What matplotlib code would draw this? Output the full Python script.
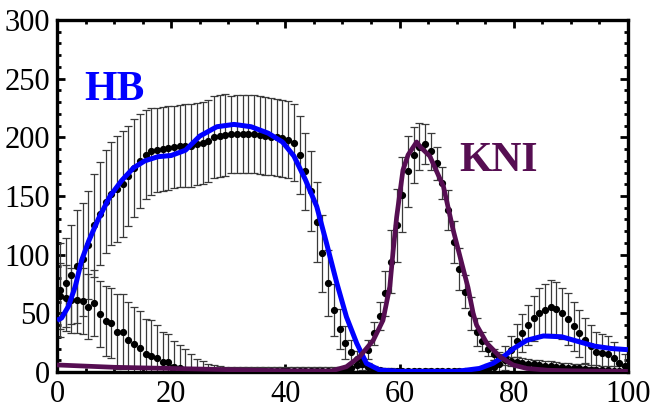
import numpy as np
import matplotlib
matplotlib.use("Agg")
import matplotlib.pyplot as plt
from matplotlib.ticker import MultipleLocator

plt.rcParams["font.family"] = ["Liberation Serif", "DejaVu Serif"]

# ---- data (positions of the bins) ----
pos = np.arange(0.5, 100, 1.0)

hb_data = [70, 76, 83, 90, 96, 108, 125, 135, 145, 152,
           156, 160, 167, 174, 180, 185, 188, 189, 190, 191,
           191.5, 192.5, 193, 193, 194, 195, 197, 200, 201, 202,
           202.5, 203, 203, 203, 203, 202, 201, 200.5, 200, 199,
           198, 195.5, 185, 171, 154, 128, 101, 76, 53, 37,
           25, 17, 11, 7, 4, 2.5, 1.5, 1.2, 1, 0.8,
           0.8, 0.8, 0.8, 0.8, 0.8, 0.8, 0.8, 0.8, 0.8, 0.8,
           0.8, 0.8, 0.8, 0.8, 1.5, 2.5, 4, 7, 12, 19,
           26.5, 33, 40, 45.7, 50.6, 53, 55, 53.5, 50, 45,
           39, 33, 27, 22, 17, 16, 15.5, 11.5, 8, 5]
hb_err = [40, 38, 42, 48, 48, 46, 44, 44, 44, 44,
          45, 45, 43, 42, 40, 38, 37, 36, 36, 36,
          35, 35, 35, 35, 35, 35, 35, 35, 35, 35,
          33, 33, 33, 33, 33, 33, 33, 33, 33, 33,
          33, 33, 33, 33, 34, 34, 33, 28, 22, 17,
          14, 10, 7, 5, 4, 3, 2, 2, 2, 2,
          2, 2, 2, 2, 2, 2, 2, 2, 2, 2,
          2, 2, 2, 2, 3, 4, 6, 8, 10, 12,
          14, 16, 17, 19, 21, 22, 23, 23, 22, 22,
          21, 20, 19, 18, 17, 16, 15, 14, 12, 10]

kni_data = [65, 63, 61, 61, 60.5, 55.7, 58.5, 49.4, 43.5, 42,
            34.4, 34.4, 27.3, 23.6, 20.2, 15.3, 14, 12, 8.2, 8.2,
            4.5, 3, 2, 1.5, 1, 1, 1, 1, 1, 1,
            1, 1, 1, 1, 1, 1, 1, 1, 1, 1,
            1, 1, 1, 1, 1, 1, 1, 1, 1, 1,
            1.5, 3, 6, 11, 19, 33, 48, 67, 94, 125,
            151, 171, 185, 192, 194, 188, 178, 161, 138, 111,
            88, 68.5, 50, 34, 26, 20, 15, 12, 10, 9,
            8.5, 8, 7, 6.5, 6, 5.5, 5, 4.5, 4, 3.5,
            3, 3, 2.5, 2, 2, 1.5, 1.5, 1, 1, 1]
kni_err = [28, 28, 28, 28, 28, 28, 28, 28, 30, 30,
           32, 32, 32, 32, 32, 30, 30, 28, 26, 24,
           22, 20, 18, 14, 10, 8, 6, 5, 4, 3,
           3, 3, 3, 3, 3, 3, 3, 3, 3, 3,
           3, 3, 3, 3, 3, 3, 3, 3, 3, 3,
           3, 4, 5, 7, 8, 10, 12, 19, 27, 31,
           32, 30, 24, 20, 17, 16, 14, 14, 17, 18,
           18, 14, 14, 12, 8, 6, 5, 5, 4, 4,
           4, 4, 4, 4, 4, 4, 4, 4, 4, 4,
           4, 4, 4, 4, 4, 4, 4, 4, 4, 4]

# model curves
hb_x = [0, 0.8, 2, 3.2, 4.3, 5.5, 7.2, 9.3, 11.3, 13.4, 15.4, 17.7, 20, 22.5,
        25, 28, 31, 34, 37, 39.5, 41.5, 43.5, 45.5, 47.2, 49, 50.7, 52.5, 54.2,
        56.5, 60, 70, 74, 76.4, 78.2, 80, 82.3, 85.2, 88.4, 91.3, 94.2, 97.1, 100]
hb_y = [44, 46, 56, 73, 95, 111, 130, 150, 163, 174, 180, 183.5, 184.5, 189,
        201, 209, 211, 209, 203.5, 196, 184, 164, 141, 110, 76, 47, 24.5, 7.4,
        1.7, 0.5, 0.5, 3, 7.4, 13, 20, 27, 30.7, 30, 26, 22, 20, 19]

kni_x = [0, 5, 10, 20, 30, 40, 48, 50.7, 53, 55.4, 57.1, 58.3, 58.9, 59.5, 60.6,
         61.5, 63, 63.6, 65.3, 67.7, 69.4, 71.2, 72, 72.9, 73.5, 75.3, 77.6, 79.9,
         82.3, 86, 90, 100]
kni_y = [6, 5, 4, 3, 2, 1, 0.8, 4.5, 13, 27, 44, 72.7, 104, 132, 172,
         185, 196, 192, 184, 158, 121, 87, 72, 50, 40, 24.5, 13, 6,
         3, 1.5, 1, 0.5]

blue = "#0000ff"
purple = "#560e52"

fig = plt.figure(figsize=(6.54, 4.16), dpi=100)
ax = fig.add_axes([0.0872, 0.1058, 0.8728, 0.8462])

for d, e in [(hb_data, hb_err), (kni_data, kni_err)]:
    ax.errorbar(pos, d, yerr=e, fmt="o", color="black", markersize=4.2,
                ecolor="#3a3a3a", elinewidth=0.9, capsize=2.6, capthick=0.9,
                zorder=2)

ax.plot(hb_x, hb_y, color=blue, lw=3.6, zorder=4, solid_capstyle="butt")
ax.plot(kni_x, kni_y, color=purple, lw=3.4, zorder=4, solid_capstyle="butt")

ax.text(10.1, 240, "HB", color=blue, fontsize=30, fontweight="bold",
        ha="center", va="center")
ax.text(77.3, 180, "KNI", color=purple, fontsize=30, fontweight="bold",
        ha="center", va="center")

ax.set_xlim(0, 100)
ax.set_ylim(0, 300)
ax.xaxis.set_major_locator(MultipleLocator(20))
ax.xaxis.set_minor_locator(MultipleLocator(5))
ax.yaxis.set_major_locator(MultipleLocator(50))
ax.yaxis.set_minor_locator(MultipleLocator(10))
ax.tick_params(which="both", direction="in", top=True, right=True,
               width=2, colors="black")
ax.tick_params(which="major", length=6, labelsize=22, pad=5)
ax.tick_params(which="minor", length=3)
ax.tick_params(axis="x", which="major", pad=6)
for s in ax.spines.values():
    s.set_linewidth(2.4)

fig.savefig("out.png", dpi=100)
